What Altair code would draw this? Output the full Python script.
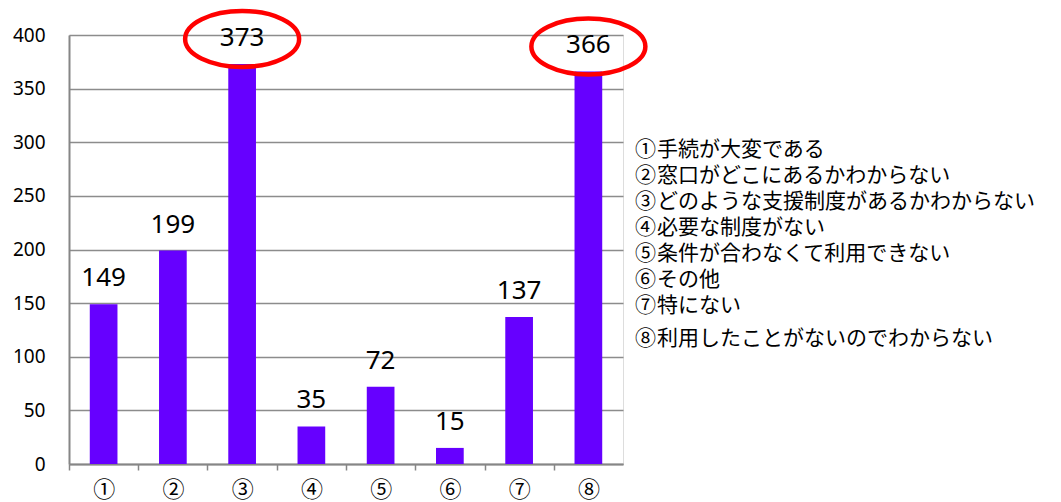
import altair as alt
import pandas as pd

categories = ["①", "②", "③", "④", "⑤", "⑥", "⑦", "⑧"]
values = [149, 199, 373, 35, 72, 15, 137, 366]
highlighted = ["③", "⑧"]
legend_labels = [
    "①手続が大変である",
    "②窓口がどこにあるかわからない",
    "③どのような支援制度があるかわからない",
    "④必要な制度がない",
    "⑤条件が合わなくて利用できない",
    "⑥その他",
    "⑦特にない",
    "⑧利用したことがないのでわからない",
]
legend_rows = [0, 1, 2, 3, 4, 5, 6, 7.25]
y_ticks = [0, 50, 100, 150, 200, 250, 300, 350, 400]

df = pd.DataFrame({"cat": categories, "value": values})
hl = df[df["cat"].isin(highlighted)]
leg = pd.DataFrame({"label": legend_labels, "row": legend_rows})

FONT_JP = "Noto Sans CJK KR"
FONT_NUM = "Noto Sans"
AXIS_GRAY = "#868686"
PLOT_W = 554
HALF_STEP = PLOT_W / len(categories) / 2

x = alt.X(
    "cat:N",
    sort=categories,
    scale=alt.Scale(paddingInner=0.6, paddingOuter=0.3),
    axis=alt.Axis(
        title=None, labelAngle=0, labelFont=FONT_JP, labelFontSize=22,
        labelColor="black", ticks=True, tickSize=6,
        tickOffset=-HALF_STEP, labelOffset=HALF_STEP,
        tickColor=AXIS_GRAY, tickWidth=1.5, domainColor=AXIS_GRAY,
        domainWidth=2, grid=False, labelPadding=9,
    ),
)
y = alt.Y(
    "value:Q",
    scale=alt.Scale(domain=[0, 400], nice=False),
    axis=alt.Axis(
        title=None, values=y_ticks, grid=True, gridColor="#8c8c8c",
        gridWidth=1.5, ticks=False, domainColor=AXIS_GRAY, domainWidth=2,
        labelFontSize=19, labelFont=FONT_NUM, labelColor="black",
        labelPadding=24,
    ),
)

bars = alt.Chart(df).mark_bar(color="#6600ff").encode(x=x, y=y)

labels = alt.Chart(df).mark_text(
    fontSize=26, font=FONT_NUM, color="black", dy=-26, baseline="middle"
).encode(x=x, y=y, text="value:Q")

ellipses = alt.Chart(hl).mark_point(
    shape="M -1 0 A 1 0.49 0 1 0 1 0 A 1 0.49 0 1 0 -1 0 Z",
    size=114 * 114, stroke="#ff0000", strokeWidth=4.5, filled=False,
    opacity=1, strokeOpacity=1, yOffset=-25,
).encode(x=x, y=y)

leg_y = alt.Y("row:Q", scale=alt.Scale(domain=[0, 7], range=[115, 297]), axis=None)

legend_base = alt.Chart(leg).transform_calculate(
    num="substring(datum.label, 0, 1)",
    rest="substring(datum.label, 1)",
)
legend_num = legend_base.mark_text(
    font=FONT_JP, fontSize=21, color="black", align="center", baseline="middle"
).encode(x=alt.value(576.5), y=leg_y, text="num:N")
legend_text = legend_base.mark_text(
    font=FONT_JP, fontSize=21, color="black", align="left", baseline="middle"
).encode(x=alt.value(588), y=leg_y, text="rest:N")

main = alt.layer(bars, labels, ellipses)
legend = alt.layer(legend_num, legend_text)
chart = alt.layer(main, legend).resolve_scale(y="independent").properties(
    width=PLOT_W, height=429,
    autosize=alt.AutoSizeParams(type="none"),
    padding={"left": 61, "top": 27, "right": 420, "bottom": 38},
).configure_view(stroke=None).configure(background="white")

chart.save("out.html", embed_options={"renderer": "svg", "actions": False})
